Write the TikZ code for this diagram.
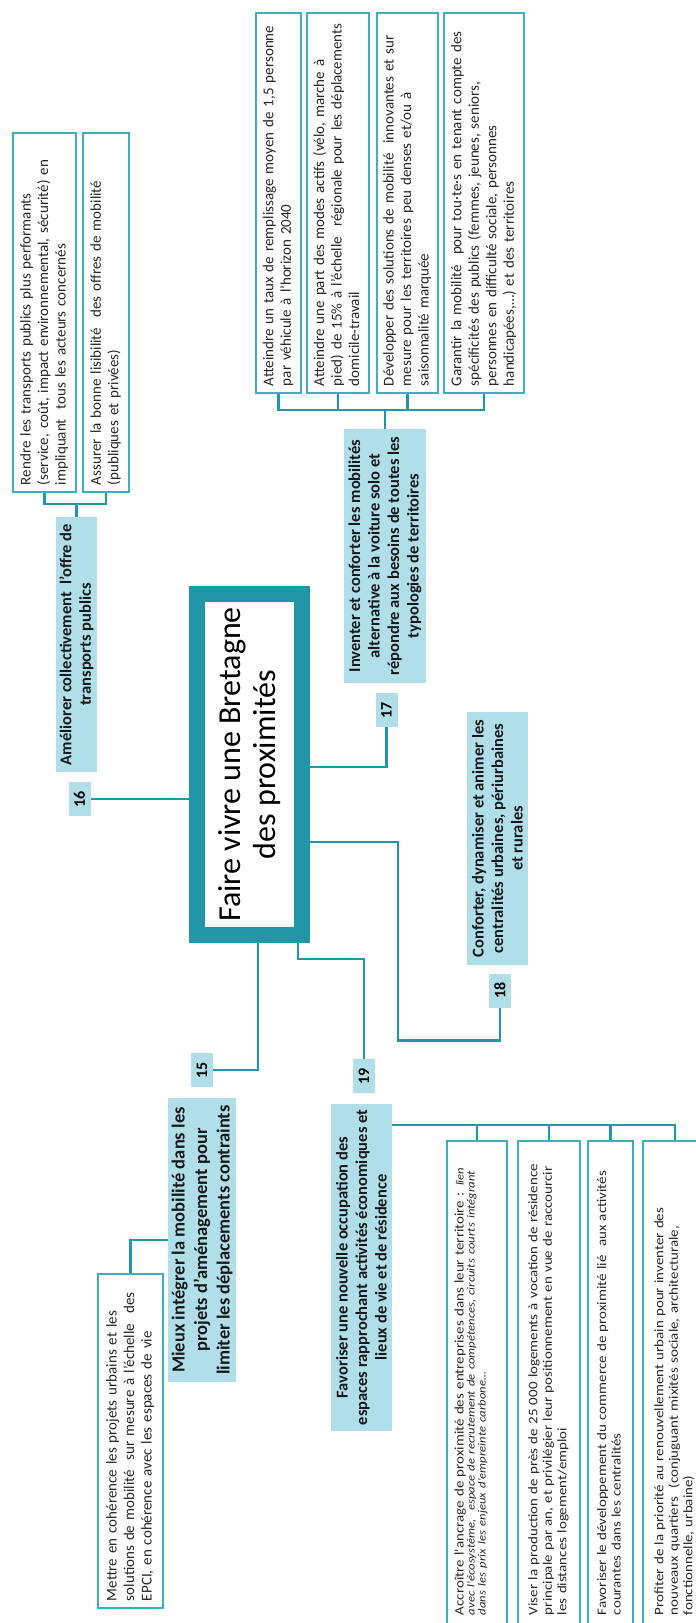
\documentclass[tikz,border=0pt]{standalone}
\usepackage{fontspec}
\setmainfont{Carlito}
\newfontfamily\narrowfont[FakeStretch=1.15]{Carlito}
\usetikzlibrary{positioning}

\definecolor{titlecol}{RGB}{33,150,166}
\definecolor{linkcol}{RGB}{30,152,170}
\definecolor{leafline}{RGB}{60,175,192}
\definecolor{topicfill}{RGB}{176,223,234}

\newcommand{\rows}[1]{\begin{tabular}{@{}l@{}}#1\end{tabular}}
\newcommand{\smit}{\itshape\fontsize{11}{11}\selectfont}

\begin{document}
\begin{tikzpicture}[
  x=1pt, y=-1pt,
  title/.style={
    draw=titlecol, line width=16pt, fill=white, rotate=90,
    minimum width=341pt, minimum height=105pt,
    align=center, font=\fontsize{32}{35}\selectfont
  },
  topic/.style={
    fill=topicfill, rotate=90, inner sep=0pt, align=center,
    text=black!90, font=\bfseries\fontsize{16.5}{19.5}\selectfont
  },
  num/.style={
    fill=topicfill, rotate=90, inner sep=0pt,
    minimum width=34pt, minimum height=22pt,
    font=\bfseries\fontsize{16}{16}\selectfont
  },
  leaf/.style={
    draw=leafline, line width=2pt, fill=white, rotate=90,
    inner xsep=7pt, inner ysep=0pt, align=left, % text starts at the lower end
    text=black!85, font=\fontsize{15}{17.5}\selectfont
  },
  wideleaf/.style={leaf, inner xsep=16pt, font=\narrowfont\fontsize{13}{14.5}\selectfont},
  link/.style={draw=linkcol, line width=2.5pt}
]
\useasboundingbox (0,0) rectangle (696,1623);
\clip (0,0) rectangle (696,1623);
\fill[white] (0,0) rectangle (696,1623);

% --- Centre ---
\node[title] (hub) at (249.5,764.5) {Faire vivre une Bretagne\\des proximités};

% --- 16 ---
\node[topic, minimum width=255pt, minimum height=41pt] (t16) at (76.5,644.5)
  {Améliorer collectivement~ l'offre de\\transports publics};
\node[num] (n16) at (79.5,799) {16};
\node[leaf, minimum width=359pt, minimum height=63pt, text width=345pt] (l16a) at (44.5,312.5)
  {\rows{Rendre les transports publics plus performants\\(service, coût, impact environnemental, sécurité) en\\impliquant~ tous les acteurs concernés}};
\node[leaf, minimum width=359pt, minimum height=46pt, text width=345pt] (l16b) at (106,312.5)
  {\rows{Assurer la bonne lisibilité~ des offres de mobilité\\(publiques et privées)}};

\draw[link] (n16.south) -- (n16.south -| hub.north);
\draw[link] (l16a.west) -- ++(0,11) -| (l16b.west);
\draw[link] (t16.east) -- ++(0,-14);

% --- 17 ---
\foreach \x/\h/\txt [count=\i] in {
  278.5/45pt/{Atteindre un taux de remplissage moyen de 1,5 personne\\par véhicule à l'horizon 2040},
  338/62pt/{Atteindre une part des modes actifs (vélo, marche à\\pied) de 15\% à l'échelle~ régionale pour les déplacements\\domicile-travail},
  407.5/61pt/{Développer des solutions de mobilité~ innovantes et sur\\mesure pour les territoires peu denses et/ou à\\saisonnalité marquée},
  484/80pt/{Garantir la mobilité~ pour tou·te·s en tenant compte des\\spécificités des publics (femmes, jeunes, seniors,\\personnes en difficulté sociale, personnes\\handicapées,…) et des territoires}} {
  \node[leaf, minimum width=380pt, minimum height=\h, text width=366pt] (l17\i) at (\x,203) {\rows{\txt}};
}
\draw[link] (l171.west) -- ++(0,16) -| (l174.west);
\foreach \i in {2,3} \draw[link] (l17\i.west) -- ++(0,16);

\node[topic, minimum width=254pt, minimum height=82pt] (t17) at (385,556)
  {Inventer et conforter les mobilités\\alternative à la voiture solo et\\répondre aux besoins de toutes les\\typologies de territoires};
\draw[link] (t17.east) -- ++(0,-20);
\node[num] (n17) at (386.5,710) {17};
\draw[link] (n17.west) -- ++(0,40) coordinate (k17) -- (k17 -| hub.south);

% --- 18 ---
\node[topic, minimum width=253pt, minimum height=61pt] (t18) at (497.5,838.5)
  {Conforter, dynamiser et animer les\\centralités urbaines, périurbaines\\et rurales};
\node[num] (n18) at (500,990.5) {18};
\coordinate (k18) at (398,842);
\draw[link] (n18.west) -- ++(0,33) -| (k18) -- (k18 -| hub.south);

% --- 19 ---
\node[num] (n19) at (364,1076) {19};
\coordinate (k19) at (298,959);
\draw[link] (n19.east) |- (k19) -- (k19 |- hub.west);
\node[topic, minimum width=327pt, minimum height=61pt] (t19) at (361.5,1267.5)
  {Favoriser une nouvelle occupation des\\espaces rapprochant activités économiques et\\lieux de vie et de résidence};

\foreach \x/\h/\txt [count=\i] in {
  477/60pt/{Accroître l'ancrage de proximité des entreprises dans leur territoire : {\smit lien}\\[-3.5pt]
    {\smit avec l'écosystème,~ espace de recrutement de compétences, circuits courts intégrant}\\[-3.5pt]
    {\smit dans les prix les enjeux d'empreinte carbone…}\\[-4pt]~},
  549/62pt/{Viser la production de près de 25~000 logements à vocation de résidence\\principale par an, et privilégier leur positionnement en vue de raccourcir\\les distances logement/emploi},
  610.5/45pt/{Favoriser le développement du commerce de proximité lié~ aux activités\\courantes dans les centralités},
  675/64pt/{Profiter de la priorité au renouvellement urbain pour inventer des\\nouveaux quartiers~ (conjuguant mixités sociale, architecturale,\\fonctionnelle, urbaine)}} {
  \node[wideleaf, minimum width=490pt, minimum height=\h, text width=458pt] (l19\i) at (\x,1386) {\rows{\txt}};
}
\draw[link] ([yshift=-21pt]t19.south east) -| (l194.east);
\foreach \i in {1,2,3} \draw[link] (l19\i.east) -- ++(0,-16);

% --- 15 ---
\node[num] (n15) at (202,1070) {15};
\coordinate (k15) at (258,1070);
\draw[link] (n15.south) -- (k15) -- (k15 |- hub.west);
\node[topic, minimum width=284pt, minimum height=68pt,
  font=\bfseries\fontsize{18.5}{22.5}\selectfont] (t15) at (202,1240)
  {Mieux intégrer la mobilité dans les\\projets d'aménagement pour\\limiter les déplacements contraints};
\node[leaf, minimum width=334pt, minimum height=65pt, text width=320pt] (l15) at (130.5,1441)
  {\rows{Mettre en cohérence les projets urbains et les\\solutions de mobilité~ sur mesure à l'échelle~ des\\EPCI, en cohérence avec les espaces de vie}};
\draw[link] (t15.north) -| (l15.east);

\end{tikzpicture}
\end{document}
